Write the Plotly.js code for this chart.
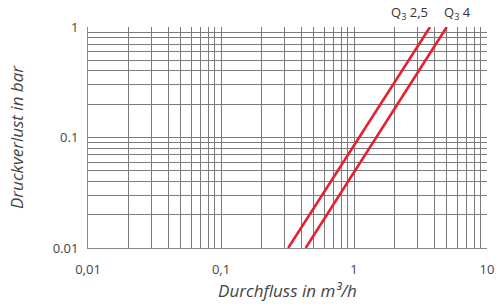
<!DOCTYPE html>
<html><head><meta charset="utf-8">
<script src="https://cdn.plot.ly/plotly-3.0.1.min.js"></script>
<style>html,body{margin:0;padding:0;background:#fff}#c{width:496px;height:307px}</style>
</head><body><div id="c"></div>
<script>
const seriesNames = ["Q<sub>3</sub> 2,5", "Q<sub>3</sub> 4"];
const flowQ25 = [0.32, 3.73];
const lossQ25 = [0.01, 1];
const flowQ4 = [0.433, 4.98];
const lossQ4 = [0.01, 1];
const xTickVals = [0.01, 0.1, 1, 10];
const xTickText = ["0,01", "0,1", "1", "10"];
const xMinorVals = [0.02,0.03,0.04,0.05,0.06,0.07,0.08,0.09,0.2,0.3,0.4,0.5,0.6,0.7,0.8,0.9,2,3,4,5,6,7,8,9];
const yTickVals = [0.01, 0.1, 1];
const yTickText = ["0.01", "0.1", "1"];
const yMinorVals = [0.02,0.03,0.04,0.05,0.06,0.07,0.08,0.09,0.2,0.3,0.4,0.5,0.6,0.7,0.8,0.9];

const red = '#e6202e';
const grid = '#7a7a7a';
const traces = [
  {x: flowQ25, y: lossQ25, mode: 'lines', line: {color: red, width: 2.6}, name: seriesNames[0], hoverinfo: 'skip'},
  {x: flowQ4, y: lossQ4, mode: 'lines', line: {color: red, width: 2.6}, name: seriesNames[1], hoverinfo: 'skip'}
];
const fam = '"Open Sans", Roboto, sans-serif';
const layout = {
  width: 496, height: 307,
  margin: {l: 88, r: 9, t: 27, b: 59},
  showlegend: false,
  paper_bgcolor: '#fff', plot_bgcolor: '#fff',
  font: {family: fam, color: '#444'},
  xaxis: {
    type: 'log', range: [-2, 1],
    tickmode: 'array', tickvals: xTickVals, ticktext: xTickText,
    minor: {tickmode: 'array', tickvals: xMinorVals, showgrid: true, gridcolor: grid, gridwidth: 1, ticks: ''},
    showgrid: true, gridcolor: grid, gridwidth: 1,
    showline: true, linecolor: '#8a8a8a', linewidth: 1,
    ticks: '', zeroline: false, ticklabelstandoff: 9,
    tickfont: {size: 13, color: '#444', family: fam},
    title: {text: 'Durchfluss in m³/h', font: {size: 17, color: '#444', style: 'italic', family: fam}, standoff: 8}
  },
  yaxis: {
    type: 'log', range: [-2, 0],
    tickmode: 'array', tickvals: yTickVals, ticktext: yTickText,
    minor: {tickmode: 'array', tickvals: yMinorVals, showgrid: true, gridcolor: grid, gridwidth: 1, ticks: ''},
    showgrid: true, gridcolor: grid, gridwidth: 1,
    showline: true, linecolor: '#8a8a8a', linewidth: 1,
    ticks: '', zeroline: false, ticklabelstandoff: 6,
    tickfont: {size: 13, color: '#444', family: fam},
    title: {text: 'Druckverlust in bar', font: {size: 17, color: '#444', style: 'italic', family: fam}, standoff: 24}
  },
  annotations: [
    {text: seriesNames[0], xref: 'paper', yref: 'paper', x: 0.807, xanchor: 'center', y: 1, yanchor: 'bottom', yshift: 2, showarrow: false, font: {size: 13, color: '#333', family: fam}},
    {text: seriesNames[1], xref: 'paper', yref: 'paper', x: 0.927, xanchor: 'center', y: 1, yanchor: 'bottom', yshift: 2, showarrow: false, font: {size: 13, color: '#333', family: fam}}
  ]
};
Plotly.newPlot('c', traces, layout, {staticPlot: true, displayModeBar: false});
</script></body></html>
